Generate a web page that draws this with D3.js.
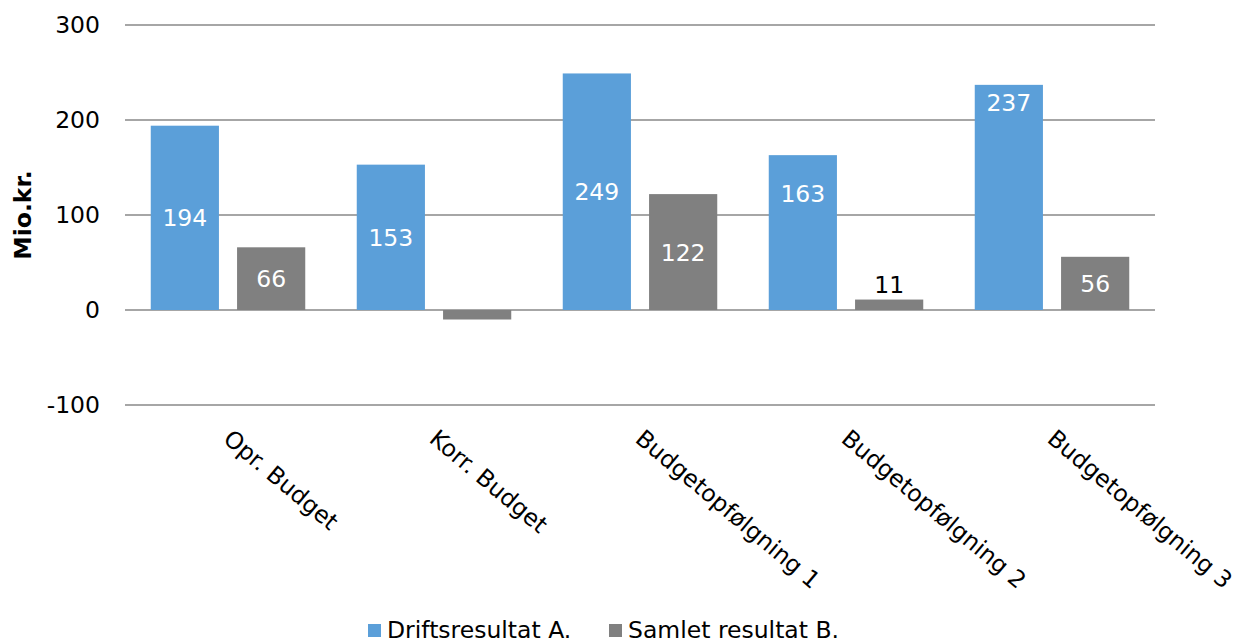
<!DOCTYPE html>
<html>
<head>
<meta charset="utf-8">
<script src="https://cdn.jsdelivr.net/npm/d3@7"></script>
<style>
  body { margin: 0; background: #fff; }
  svg { font-family: "DejaVu Sans", Verdana, sans-serif; }
  .grid line { stroke: #a6a6a6; stroke-width: 2; }
  .tick text { font-size: 23.5px; fill: #000; font-family: "DejaVu Sans", Verdana, sans-serif; }
</style>
</head>
<body>
<svg width="1238" height="644"></svg>
<script>
// data
const categories = ["Opr. Budget", "Korr. Budget", "Budgetopfølgning 1", "Budgetopfølgning 2", "Budgetopfølgning 3"]
const seriesNames = ["Driftsresultat A.", "Samlet resultat B."]
const drifts = [194, 153, 249, 163, 237]
const samlet = [66, -10, 122, 11, 56]
const yTicks = [-100, 0, 100, 200, 300]

const colors = ["#5b9fd9", "#808080"]
const fontSize = "23.5px"

// labels that were dragged up in the original (pixels, by series/category)
const labelNudge = { "0-3": -39, "0-4": -95 }

const svg = d3.select("svg")

const plotLeft = 125, plotRight = 1155, plotTop = 25, plotBottom = 405

const x = d3.scaleBand()
  .domain(categories)
  .range([plotLeft, plotRight])
  .paddingInner(0.25)
  .paddingOuter(0.125)

const xSub = d3.scaleBand()
  .domain([0, 1])
  .range([0, x.bandwidth()])
  .paddingInner(0.21)

const y = d3.scaleLinear()
  .domain([-100, 300])
  .range([plotBottom, plotTop])

// gridlines
svg.append("g")
  .attr("class", "grid")
  .selectAll("line")
  .data(yTicks)
  .enter()
  .append("line")
  .attr("x1", plotLeft)
  .attr("x2", plotRight)
  .attr("y1", d => y(d))
  .attr("y2", d => y(d))

// y axis labels (plain hyphen for negatives, like the original)
const yAxis = svg.append("g")
  .attr("transform", `translate(${plotLeft},0)`)
  .call(d3.axisLeft(y).tickValues(yTicks).tickSize(0).tickPadding(25).tickFormat(d => String(d)))
yAxis.select(".domain").remove()

// axis title
svg.append("text")
  .attr("transform", `translate(31,${(plotTop + plotBottom) / 2}) rotate(-90)`)
  .attr("text-anchor", "middle")
  .style("font-size", fontSize)
  .style("font-weight", "bold")
  .text("Mio.kr.")

// bars
const rows = categories.map((c, i) => ({ cat: c, i: i, values: [drifts[i], samlet[i]] }))

const groups = svg.selectAll("g.cat")
  .data(rows)
  .enter()
  .append("g")
  .attr("class", "cat")
  .attr("transform", d => `translate(${x(d.cat)},0)`)

groups.selectAll("rect")
  .data(d => d.values.map((v, s) => ({ v: v, s: s, i: d.i })))
  .enter()
  .append("rect")
  .attr("x", d => xSub(d.s))
  .attr("width", xSub.bandwidth())
  .attr("y", d => y(Math.max(0, d.v)))
  .attr("height", d => Math.abs(y(d.v) - y(0)))
  .attr("fill", d => colors[d.s])

// data labels
groups.selectAll("text.val")
  .data(d => d.values.map((v, s) => ({ v: v, s: s, i: d.i })).filter(d => d.v > 0))
  .enter()
  .append("text")
  .attr("class", "val")
  .attr("x", d => xSub(d.s) + xSub.bandwidth() / 2)
  .attr("y", d => {
    const h = y(0) - y(d.v)
    if (h < 30) return y(d.v) - 15 // too small, put above
    return (y(d.v) + y(0)) / 2 + (labelNudge[d.s + "-" + d.i] || 0)
  })
  .attr("dy", "0.36em")
  .attr("text-anchor", "middle")
  .style("font-size", fontSize)
  .attr("fill", d => (y(0) - y(d.v) < 30) ? "#000" : "#fff")
  .text(d => d.v)

// category labels, rotated
svg.selectAll("text.catlabel")
  .data(categories)
  .enter()
  .append("text")
  .attr("class", "catlabel")
  .attr("transform", d => `translate(${x(d) + x.bandwidth() / 2 - 6},441) rotate(40)`)
  .style("font-size", fontSize)
  .text(d => d)

// legend
const legend = svg.selectAll("g.legend")
  .data(seriesNames)
  .enter()
  .append("g")
  .attr("class", "legend")
  .attr("transform", (d, i) => `translate(${i === 0 ? 368 : 609},0)`)

legend.append("rect")
  .attr("x", 0)
  .attr("y", 624)
  .attr("width", 13)
  .attr("height", 13)
  .attr("fill", (d, i) => colors[i])

legend.append("text")
  .attr("x", 19)
  .attr("y", 638)
  .style("font-size", fontSize)
  .text(d => d)
</script>
</body>
</html>
